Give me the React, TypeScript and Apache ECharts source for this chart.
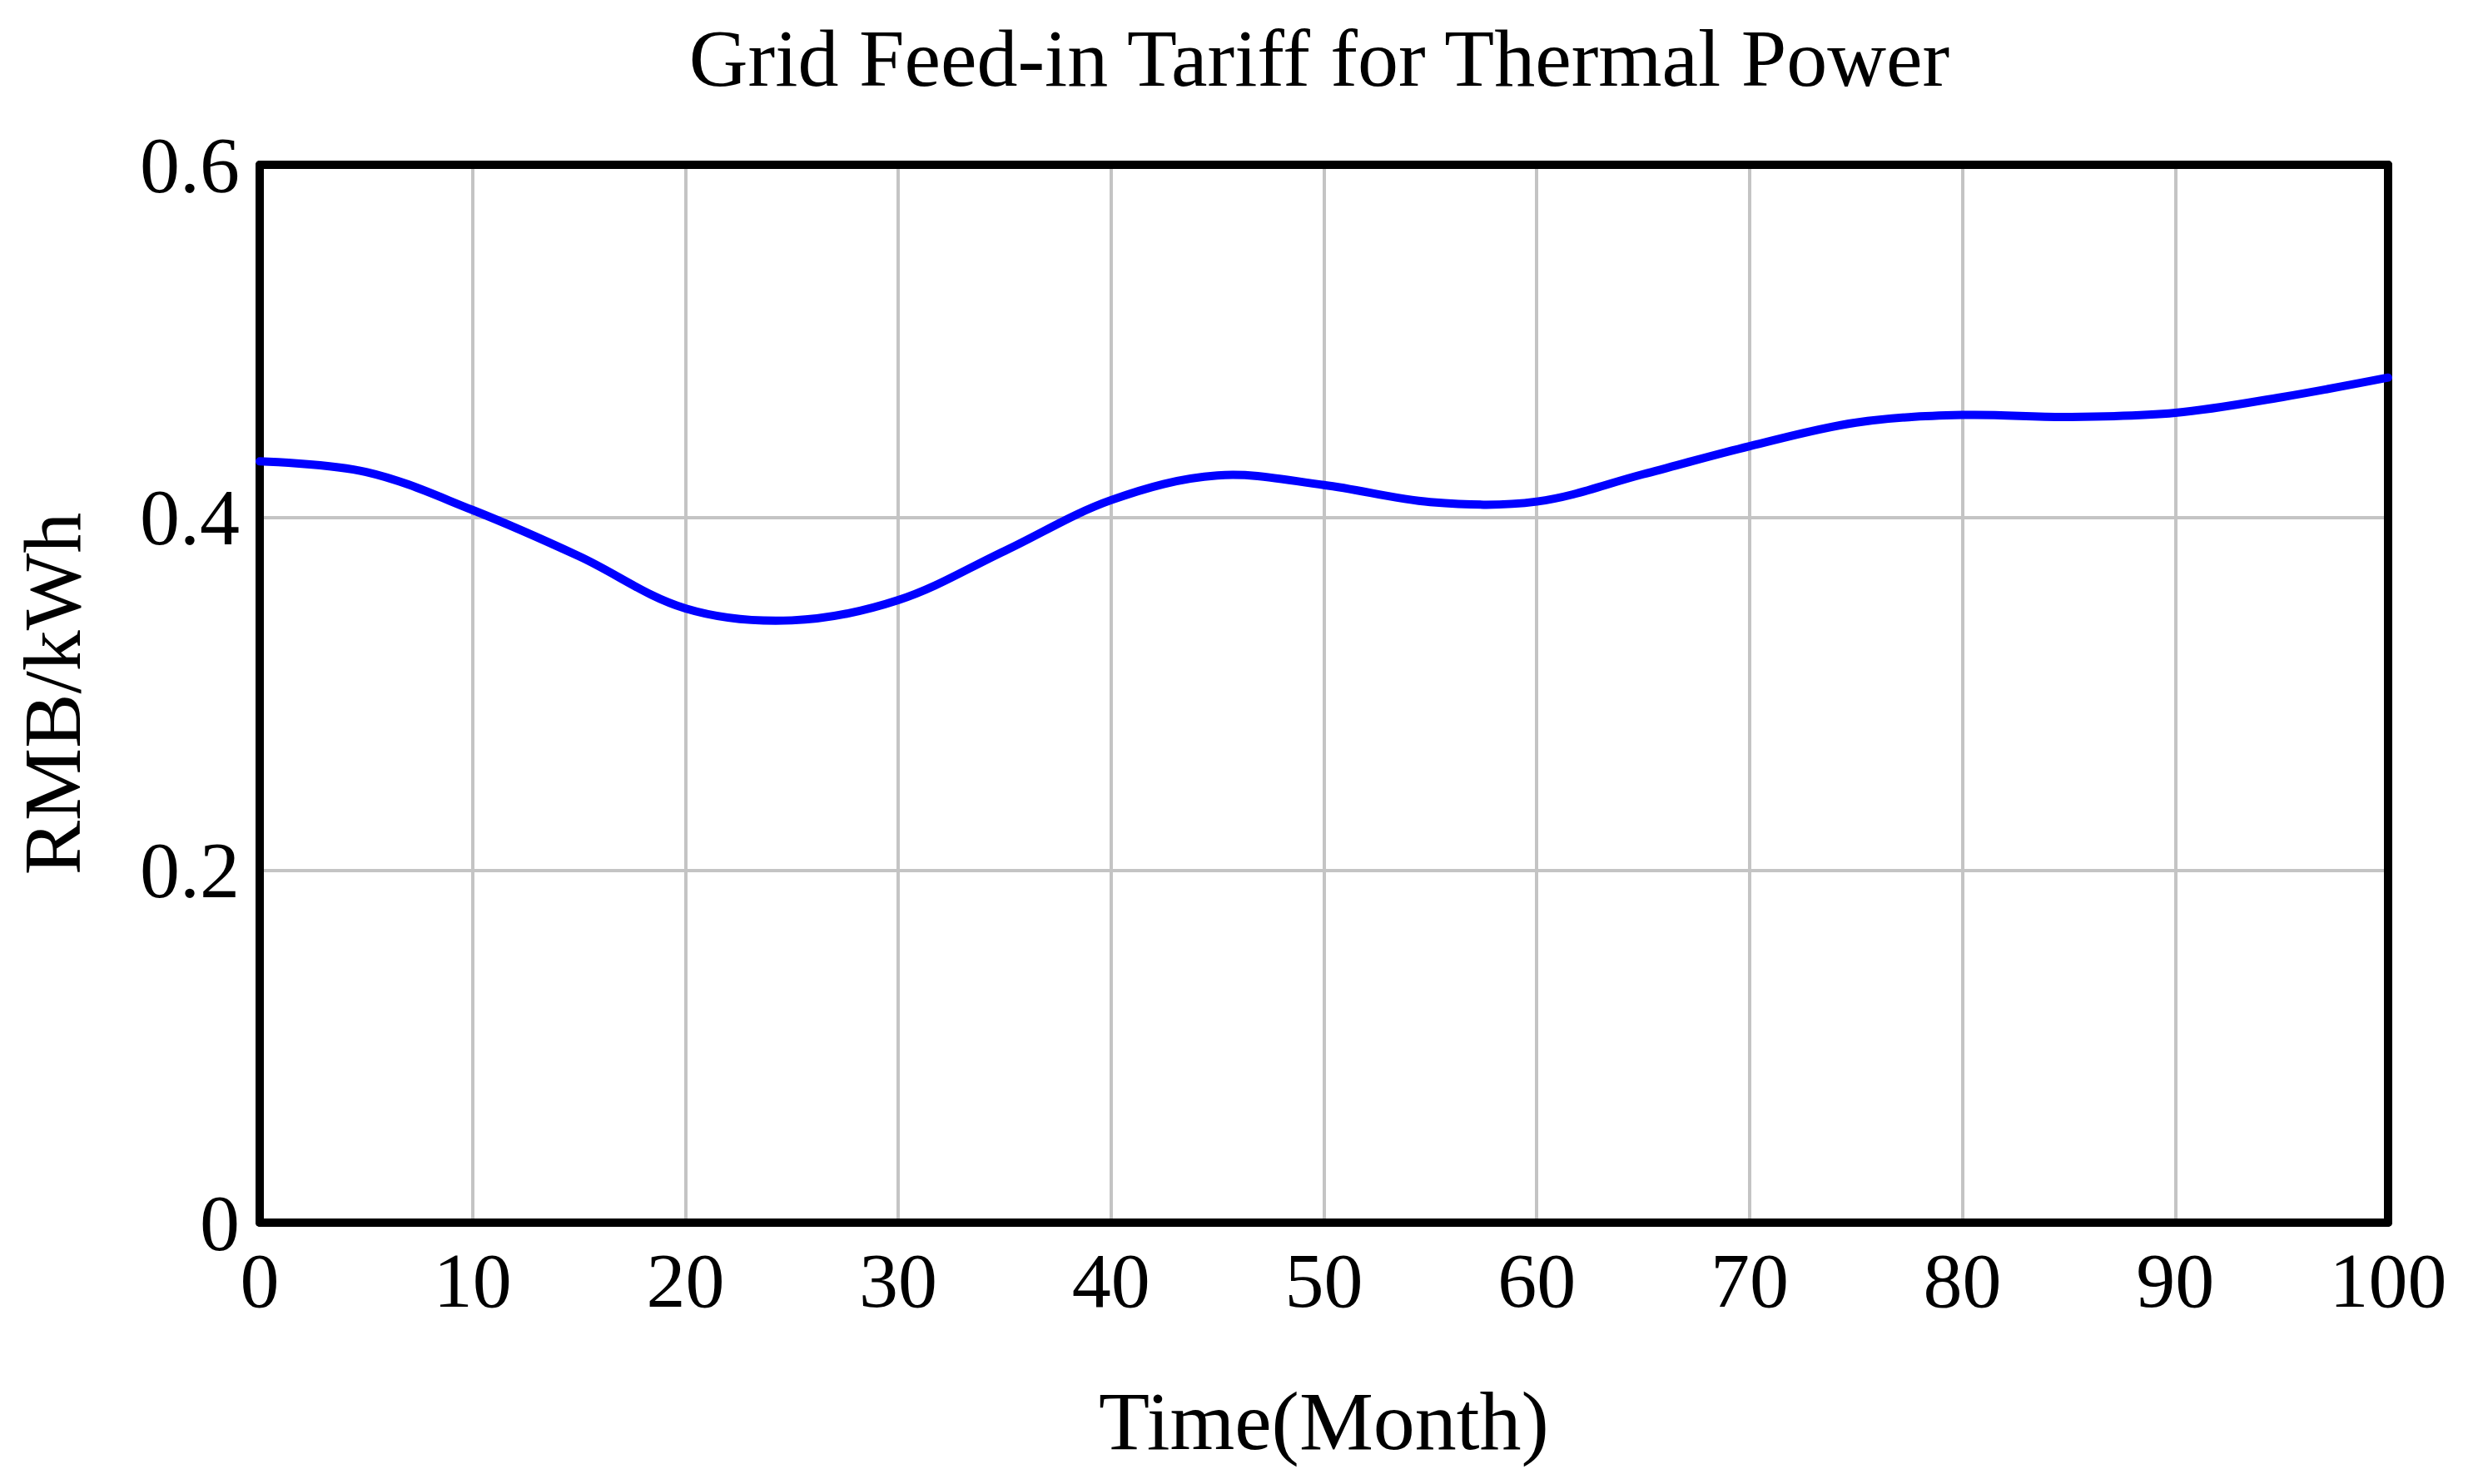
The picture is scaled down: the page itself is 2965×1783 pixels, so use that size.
import React, { useEffect, useRef } from "react";
import * as echarts from "echarts";

const titleText = "Grid Feed-in Tariff for Thermal Power";
const xName = "Time(Month)";
const yName = "RMB/kWh";
const months = [0, 5, 10, 15, 20, 25, 30, 35, 40, 45, 50, 55, 60, 65, 70, 75, 80, 85, 90, 95, 100];
const tariff = [0.4318, 0.4258, 0.4042, 0.378, 0.3484, 0.3416, 0.3531, 0.381, 0.4098, 0.4238, 0.4184, 0.4087, 0.409, 0.4245, 0.4404, 0.4538, 0.4581, 0.457, 0.4593, 0.4682, 0.4793];

const FONT = "Liberation Serif";

export default function App() {
  const ref = useRef<HTMLDivElement>(null);
  useEffect(() => {
    document.body.style.margin = "0";
    const chart = echarts.init(ref.current!, null, { renderer: "svg" });
    const data = months.map((m, i) => [m, tariff[i]]);
    chart.setOption({
      animation: false,
      backgroundColor: "#ffffff",
      title: {
        text: titleText,
        left: 1580,
        top: 16,
        textAlign: "center",
        textStyle: { fontFamily: FONT, fontSize: 98, fontWeight: "normal", color: "#000" },
      },
      grid: { left: 312, right: 96, top: 198, bottom: 314 },
      xAxis: [
        {
          type: "value",
          min: 0,
          max: 100,
          interval: 10,
          position: "bottom",
          name: xName,
          nameLocation: "middle",
          nameGap: 188,
          nameTextStyle: { fontFamily: FONT, fontSize: 100, color: "#000" },
          axisLine: { show: true, lineStyle: { color: "#000", width: 10 } },
          axisTick: { show: false },
          axisLabel: { fontFamily: FONT, fontSize: 94, color: "#000", margin: 22 },
          splitLine: { show: true, lineStyle: { color: "#c4c4c4", width: 4 } },
        },
        {
          type: "value",
          min: 0,
          max: 100,
          position: "top",
          axisLine: { show: true, onZero: false, lineStyle: { color: "#000", width: 10 } },
          axisTick: { show: false },
          axisLabel: { show: false },
          splitLine: { show: false },
        },
      ],
      yAxis: [
        {
          type: "value",
          min: 0,
          max: 0.6,
          interval: 0.2,
          position: "left",
          name: yName,
          nameLocation: "middle",
          nameGap: 200,
          nameRotate: 90,
          nameTextStyle: { fontFamily: FONT, fontSize: 98, color: "#000" },
          axisLine: { show: true, lineStyle: { color: "#000", width: 10 } },
          axisTick: { show: false },
          axisLabel: {
            fontFamily: FONT,
            fontSize: 96,
            color: "#000",
            margin: 24,
            formatter: (v: number) => (v === 0 ? "0" : String(Math.round(v * 10) / 10)),
          },
          splitLine: { show: true, lineStyle: { color: "#c4c4c4", width: 4 } },
        },
        {
          type: "value",
          min: 0,
          max: 0.6,
          position: "right",
          axisLine: { show: true, onZero: false, lineStyle: { color: "#000", width: 10 } },
          axisTick: { show: false },
          axisLabel: { show: false },
          splitLine: { show: false },
        },
      ],
      series: [
        {
          type: "custom",
          data,
          xAxisIndex: 0,
          yAxisIndex: 0,
          encode: { x: 0, y: 1 },
          clip: false,
          z: 1,
          renderItem: (params: any, api: any) => {
            if (params.dataIndex !== 0) return { type: "group", children: [] };
            const points = data.map((d) => api.coord(d));
            return {
              type: "polyline",
              shape: { points, smooth: 0.35 },
              style: { stroke: "#0000ff", lineWidth: 10, fill: "none", lineJoin: "round", lineCap: "round" },
            };
          },
        },
      ],
    });
    return () => chart.dispose();
  }, []);
  return <div ref={ref} style={{ width: 2965, height: 1783 }} />;
}
